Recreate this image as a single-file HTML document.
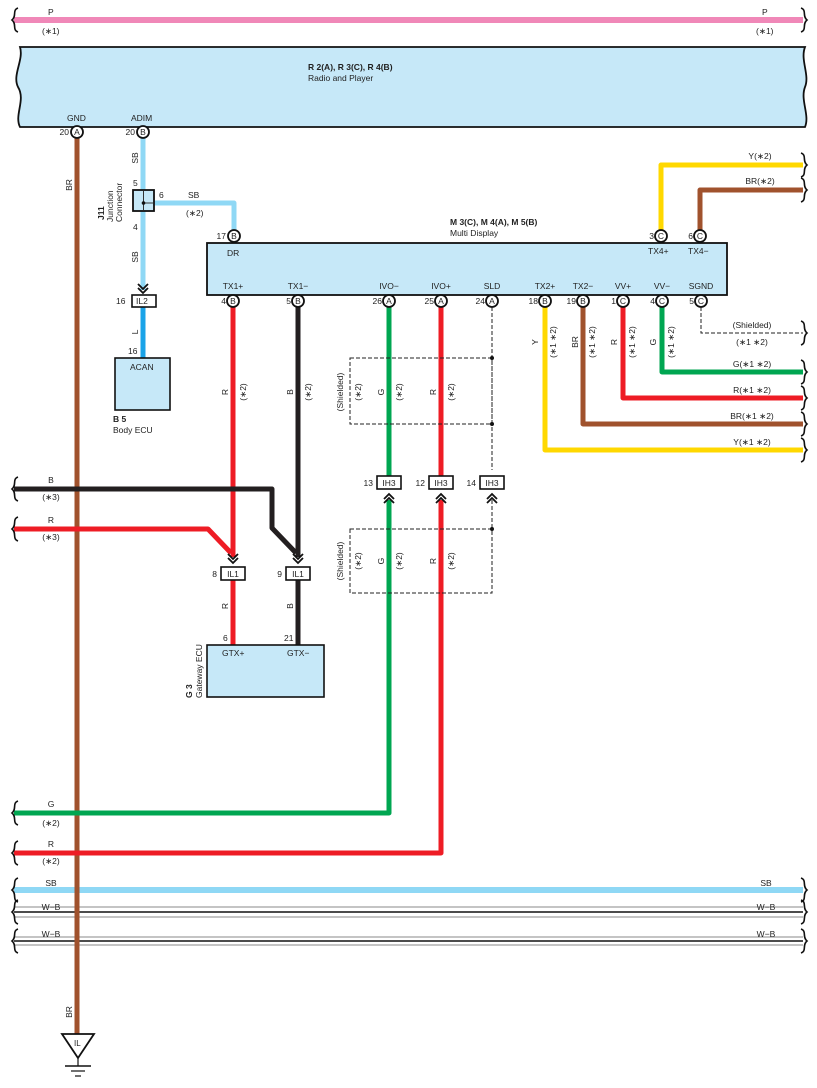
<!DOCTYPE html>
<html><head><meta charset="utf-8"><style>
html,body{margin:0;padding:0;background:#fff}
svg{display:block}
text{font-family:"Liberation Sans",sans-serif;font-size:8.5px;fill:#222}
.b{font-weight:bold}
.w{fill:none;stroke-linejoin:round;stroke-linecap:butt}
.d{fill:none;stroke:#222;stroke-width:1;stroke-dasharray:4,2}
</style></head><body>
<svg width="817" height="1088" viewBox="0 0 817 1088" xmlns="http://www.w3.org/2000/svg">
<defs>
<path id="lb" d="M4,-12 C-2,-10 3,-4 -2,0 C3,4 -2,10 4,12" fill="none" stroke="#111" stroke-width="1.6"/>
<path id="rb" d="M-4,-12 C2,-10 -3,-4 2,0 C-3,4 2,10 -4,12" fill="none" stroke="#111" stroke-width="1.6"/>
<path id="chev" d="M-5,-6 L0,-1 L5,-6 M-5,-2 L0,3 L5,-2" fill="none" stroke="#111" stroke-width="1.8"/>
<path id="chevu" d="M-5,6 L0,1 L5,6 M-5,2 L0,-3 L5,2" fill="none" stroke="#111" stroke-width="1.8"/>
</defs>

<!-- P wire -->
<line x1="14" y1="20" x2="803" y2="20" stroke="#f088b8" stroke-width="6"/>
<use href="#lb" x="14" y="20"/><use href="#rb" x="805" y="20"/>
<text x="48" y="15">P</text><text x="42" y="34">(∗1)</text>
<text x="762" y="15">P</text><text x="756" y="34">(∗1)</text>

<!-- Radio box -->
<path d="M20,47 L805,47 C800,60 810,75 805,87 C800,100 810,115 805,127 L20,127 C14,115 26,100 18,87 C12,75 24,60 20,47 Z" fill="#c6e8f8" stroke="#111" stroke-width="1.8"/>
<text class="b" x="308" y="70">R 2(A), R 3(C), R 4(B)</text>
<text x="308" y="81">Radio and Player</text>
<text x="67" y="121">GND</text><text x="131" y="121">ADIM</text>

<!-- wires -->
<g class="w">
<line x1="77" y1="138" x2="77" y2="1034" stroke="#a0522d" stroke-width="5"/>
<polyline points="143,138 143,290" stroke="#8fd8f5" stroke-width="5"/>
<polyline points="150,203 234,203 234,230" stroke="#8fd8f5" stroke-width="5"/>
<line x1="143" y1="306" x2="143" y2="358" stroke="#1aa3e8" stroke-width="5"/>
<polyline points="661,230 661,165 803,165" stroke="#ffd800" stroke-width="5"/>
<polyline points="700,230 700,190 803,190" stroke="#a0522d" stroke-width="5"/>
<polyline points="662,307 662,372 803,372" stroke="#00a651" stroke-width="5"/>
<polyline points="623,307 623,398 803,398" stroke="#ee1c25" stroke-width="5"/>
<polyline points="583,307 583,424 803,424" stroke="#a0522d" stroke-width="5"/>
<polyline points="545,307 545,450 803,450" stroke="#ffd800" stroke-width="5"/>
<line x1="233" y1="307" x2="233" y2="557" stroke="#ee1c25" stroke-width="5"/>
<line x1="298" y1="307" x2="298" y2="557" stroke="#231f20" stroke-width="5"/>
<polyline points="14,489 272,489 272,528 296,553" stroke="#231f20" stroke-width="5"/>
<polyline points="14,529 208,529 231,553" stroke="#ee1c25" stroke-width="5"/>
<line x1="233" y1="580" x2="233" y2="645" stroke="#ee1c25" stroke-width="5"/>
<line x1="298" y1="580" x2="298" y2="645" stroke="#231f20" stroke-width="5"/>
<line x1="389" y1="307" x2="389" y2="476" stroke="#00a651" stroke-width="5"/>
<line x1="441" y1="307" x2="441" y2="476" stroke="#ee1c25" stroke-width="5"/>
<polyline points="389,500 389,813 14,813" stroke="#00a651" stroke-width="5"/>
<polyline points="441,500 441,853 14,853" stroke="#ee1c25" stroke-width="5"/>
<line x1="14" y1="890" x2="803" y2="890" stroke="#8fd8f5" stroke-width="6"/>
</g>
<!-- W-B lines -->
<g>
<line x1="14" y1="907" x2="803" y2="907" stroke="#888" stroke-width="1"/>
<line x1="14" y1="912" x2="803" y2="912" stroke="#111" stroke-width="1.6"/>
<line x1="14" y1="917" x2="803" y2="917" stroke="#888" stroke-width="1"/>
<line x1="14" y1="937" x2="803" y2="937" stroke="#888" stroke-width="1"/>
<line x1="14" y1="941" x2="803" y2="941" stroke="#111" stroke-width="1.6"/>
<line x1="14" y1="945" x2="803" y2="945" stroke="#888" stroke-width="1"/>
</g>
<line x1="77" y1="880" x2="77" y2="1034" stroke="#a0522d" stroke-width="5"/>

<!-- dashed shield -->
<polyline class="d" points="701,307 701,333 803,333"/>
<line class="d" x1="492" y1="307" x2="492" y2="470"/>
<rect class="d" x="350" y="358" width="142" height="66"/>
<line class="d" x1="492" y1="500" x2="492" y2="529"/>
<rect class="d" x="350" y="529" width="142" height="64"/>
<circle cx="492" cy="358" r="2" fill="#111"/><circle cx="492" cy="424" r="2" fill="#111"/><circle cx="492" cy="529" r="2" fill="#111"/>

<!-- braces -->
<use href="#rb" x="805" y="165"/><use href="#rb" x="805" y="190"/><use href="#rb" x="805" y="333"/>
<use href="#rb" x="805" y="372"/><use href="#rb" x="805" y="398"/><use href="#rb" x="805" y="424"/><use href="#rb" x="805" y="450"/>
<use href="#lb" x="14" y="489"/><use href="#lb" x="14" y="529"/>
<use href="#lb" x="14" y="813"/><use href="#lb" x="14" y="853"/><use href="#lb" x="14" y="890"/>
<use href="#lb" x="14" y="912"/><use href="#lb" x="14" y="941"/>
<use href="#rb" x="805" y="890"/><use href="#rb" x="805" y="912"/><use href="#rb" x="805" y="941"/>

<!-- J11 -->
<rect x="133" y="190" width="21" height="21" fill="#c6e8f8" stroke="#111" stroke-width="1.8"/>
<line x1="143.5" y1="191" x2="143.5" y2="210" stroke="#333" stroke-width="1"/>
<line x1="143.5" y1="203" x2="153" y2="203" stroke="#333" stroke-width="1"/>
<circle cx="143.5" cy="203" r="1.8" fill="#111"/>
<text x="133" y="186">5</text><text x="159" y="198">6</text><text x="133" y="230">4</text>
<text x="188" y="198">SB</text><text x="186" y="216">(∗2)</text>
<g transform="translate(104,220) rotate(-90)"><text class="b" x="0" y="0">J11</text></g>
<g transform="translate(113,222) rotate(-90)"><text x="0" y="0">Junction</text><text x="0" y="9">Connector</text></g>

<!-- IL2 & Body ECU -->
<use href="#chev" x="143" y="290"/>
<rect x="132" y="295" width="24" height="12" fill="#fff" stroke="#111" stroke-width="1.6"/>
<text x="136" y="304">IL2</text><text x="116" y="304">16</text>
<text x="128" y="354">16</text>
<rect x="115" y="358" width="55" height="52" fill="#c6e8f8" stroke="#111" stroke-width="1.6"/>
<text x="130" y="370">ACAN</text>
<text class="b" x="113" y="422">B 5</text><text x="113" y="433">Body ECU</text>

<!-- Multi display -->
<rect x="207" y="243" width="520" height="52" fill="#c6e8f8" stroke="#111" stroke-width="1.8"/>
<text class="b" x="450" y="225">M 3(C), M 4(A), M 5(B)</text>
<text x="450" y="236">Multi Display</text>
<text x="227" y="256">DR</text>
<text x="648" y="254">TX4+</text><text x="688" y="254">TX4−</text>
<g text-anchor="middle">
<text x="233" y="289">TX1+</text><text x="298" y="289">TX1−</text><text x="389" y="289">IVO−</text><text x="441" y="289">IVO+</text>
<text x="492" y="289">SLD</text><text x="545" y="289">TX2+</text><text x="583" y="289">TX2−</text><text x="623" y="289">VV+</text>
<text x="662" y="289">VV−</text><text x="701" y="289">SGND</text>
</g>

<!-- connector circles -->
<g stroke="#111" stroke-width="1.8" fill="#fff">
<circle cx="77" cy="132" r="6"/><circle cx="143" cy="132" r="6"/><circle cx="234" cy="236" r="6"/>
<circle cx="661" cy="236" r="6"/><circle cx="700" cy="236" r="6"/>
<circle cx="233" cy="301" r="6"/><circle cx="298" cy="301" r="6"/><circle cx="389" cy="301" r="6"/><circle cx="441" cy="301" r="6"/>
<circle cx="492" cy="301" r="6"/><circle cx="545" cy="301" r="6"/><circle cx="583" cy="301" r="6"/><circle cx="623" cy="301" r="6"/>
<circle cx="662" cy="301" r="6"/><circle cx="701" cy="301" r="6"/>
</g>
<g text-anchor="middle" style="font-size:8px">
<text x="77" y="135">A</text><text x="143" y="135">B</text><text x="234" y="239">B</text>
<text x="661" y="239">C</text><text x="700" y="239">C</text>
<text x="233" y="304">B</text><text x="298" y="304">B</text><text x="389" y="304">A</text><text x="441" y="304">A</text>
<text x="492" y="304">A</text><text x="545" y="304">B</text><text x="583" y="304">B</text><text x="623" y="304">C</text>
<text x="662" y="304">C</text><text x="701" y="304">C</text>
</g>
<g text-anchor="end">
<text x="69" y="135">20</text><text x="135" y="135">20</text><text x="226" y="239">17</text>
<text x="654" y="239">3</text><text x="693" y="239">6</text>
<text x="226" y="304">4</text><text x="291" y="304">5</text><text x="382" y="304">26</text><text x="434" y="304">25</text>
<text x="485" y="304">24</text><text x="538" y="304">18</text><text x="576" y="304">19</text><text x="616" y="304">1</text>
<text x="655" y="304">4</text><text x="694" y="304">5</text>
</g>

<!-- right labels -->
<g text-anchor="middle">
<text x="760" y="159">Y(∗2)</text><text x="760" y="184">BR(∗2)</text>
<text x="752" y="328">(Shielded)</text><text x="752" y="345">(∗1 ∗2)</text>
<text x="752" y="367">G(∗1 ∗2)</text><text x="752" y="393">R(∗1 ∗2)</text>
<text x="752" y="419">BR(∗1 ∗2)</text><text x="752" y="445">Y(∗1 ∗2)</text>
</g>

<!-- rotated wire labels -->
<g text-anchor="middle">
<g transform="translate(72,185) rotate(-90)"><text>BR</text></g>
<g transform="translate(138,158) rotate(-90)"><text>SB</text></g>
<g transform="translate(138,257) rotate(-90)"><text>SB</text></g>
<g transform="translate(138,332) rotate(-90)"><text>L</text></g>
<g transform="translate(72,1012) rotate(-90)"><text>BR</text></g>
<g transform="translate(228,392) rotate(-90)"><text>R</text></g>
<g transform="translate(246,392) rotate(-90)"><text>(∗2)</text></g>
<g transform="translate(293,392) rotate(-90)"><text>B</text></g>
<g transform="translate(311,392) rotate(-90)"><text>(∗2)</text></g>
<g transform="translate(228,606) rotate(-90)"><text>R</text></g>
<g transform="translate(293,606) rotate(-90)"><text>B</text></g>
<g transform="translate(343,392) rotate(-90)"><text>(Shielded)</text></g>
<g transform="translate(361,392) rotate(-90)"><text>(∗2)</text></g>
<g transform="translate(384,392) rotate(-90)"><text>G</text></g>
<g transform="translate(402,392) rotate(-90)"><text>(∗2)</text></g>
<g transform="translate(436,392) rotate(-90)"><text>R</text></g>
<g transform="translate(454,392) rotate(-90)"><text>(∗2)</text></g>
<g transform="translate(343,561) rotate(-90)"><text>(Shielded)</text></g>
<g transform="translate(361,561) rotate(-90)"><text>(∗2)</text></g>
<g transform="translate(384,561) rotate(-90)"><text>G</text></g>
<g transform="translate(402,561) rotate(-90)"><text>(∗2)</text></g>
<g transform="translate(436,561) rotate(-90)"><text>R</text></g>
<g transform="translate(454,561) rotate(-90)"><text>(∗2)</text></g>
<g transform="translate(538,342) rotate(-90)"><text>Y</text></g>
<g transform="translate(556,342) rotate(-90)"><text>(∗1 ∗2)</text></g>
<g transform="translate(578,342) rotate(-90)"><text>BR</text></g>
<g transform="translate(595,342) rotate(-90)"><text>(∗1 ∗2)</text></g>
<g transform="translate(617,342) rotate(-90)"><text>R</text></g>
<g transform="translate(635,342) rotate(-90)"><text>(∗1 ∗2)</text></g>
<g transform="translate(656,342) rotate(-90)"><text>G</text></g>
<g transform="translate(674,342) rotate(-90)"><text>(∗1 ∗2)</text></g>
</g>

<!-- left wire labels -->
<g text-anchor="middle">
<text x="51" y="483">B</text><text x="51" y="500">(∗3)</text>
<text x="51" y="523">R</text><text x="51" y="540">(∗3)</text>
<text x="51" y="807">G</text><text x="51" y="826">(∗2)</text>
<text x="51" y="847">R</text><text x="51" y="864">(∗2)</text>
<text x="51" y="886">SB</text><text x="766" y="886">SB</text>
<text x="51" y="910">W−B</text><text x="766" y="910">W−B</text>
<text x="51" y="937">W−B</text><text x="766" y="937">W−B</text>
</g>

<!-- IH3 connectors -->
<g stroke="#111" stroke-width="1.6" fill="#fff">
<rect x="377" y="476" width="24" height="13"/><rect x="429" y="476" width="24" height="13"/><rect x="480" y="476" width="24" height="13"/>
<rect x="221" y="567" width="24" height="13"/><rect x="286" y="567" width="24" height="13"/>
</g>
<g text-anchor="middle">
<text x="389" y="486">IH3</text><text x="441" y="486">IH3</text><text x="492" y="486">IH3</text>
<text x="233" y="577">IL1</text><text x="298" y="577">IL1</text>
</g>
<g text-anchor="end">
<text x="373" y="486">13</text><text x="425" y="486">12</text><text x="476" y="486">14</text>
<text x="217" y="577">8</text><text x="282" y="577">9</text>
</g>
<use href="#chevu" x="389" y="497"/><use href="#chevu" x="441" y="497"/><use href="#chevu" x="492" y="497"/>
<use href="#chev" x="233" y="560"/><use href="#chev" x="298" y="560"/>

<!-- Gateway ECU -->
<rect x="207" y="645" width="117" height="52" fill="#c6e8f8" stroke="#111" stroke-width="1.6"/>
<text x="222" y="656">GTX+</text><text x="287" y="656">GTX−</text>
<text x="223" y="641">6</text><text x="284" y="641">21</text>
<g transform="translate(192,698) rotate(-90)"><text class="b">G 3</text></g>
<g transform="translate(202,698) rotate(-90)"><text>Gateway ECU</text></g>

<!-- ground -->
<path d="M62,1034 L94,1034 L78,1058 Z" fill="#fff" stroke="#111" stroke-width="1.8"/>
<text x="74" y="1046" style="font-size:8px">IL</text>
<line x1="78" y1="1058" x2="78" y2="1066" stroke="#111" stroke-width="1.2"/>
<line x1="65" y1="1066" x2="91" y2="1066" stroke="#111" stroke-width="1.4"/>
<line x1="71" y1="1071" x2="85" y2="1071" stroke="#111" stroke-width="1.2"/>
<line x1="75" y1="1076" x2="81" y2="1076" stroke="#111" stroke-width="1.2"/>
</svg>
</body></html>
